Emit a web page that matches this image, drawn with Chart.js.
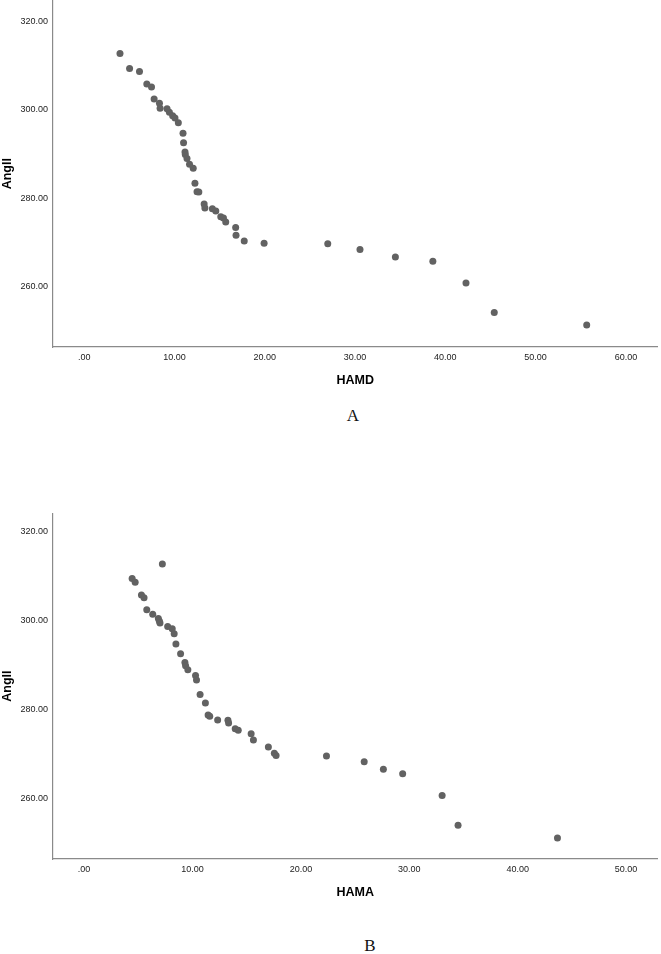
<!DOCTYPE html>
<html>
<head>
<meta charset="utf-8">
<script src="https://cdn.jsdelivr.net/npm/chart.js@4"></script>
<style>
  html, body { margin: 0; padding: 0; background: #fff; }
  body { width: 661px; height: 954px; position: relative; overflow: hidden; }
  .box { position: absolute; left: 0; width: 661px; }
  .cap { position: absolute; font-family: 'Liberation Serif', 'Times New Roman', serif; font-size: 17px; color: #111; transform: translate(-50%, -50%); }
</style>
</head>
<body>
<div class="box" style="top:-3px;height:403px"><canvas id="cA" width="661" height="403"></canvas></div>
<div class="box" style="top:500px;height:420px"><canvas id="cB" width="661" height="420"></canvas></div>
<div class="cap" style="left:353px;top:416px">A</div>
<div class="cap" style="left:370px;top:946px">B</div>
<script>
// ---- data ----
const hamdValues = [3.97, 5.03, 6.13, 6.94, 7.46, 7.75, 8.34, 8.41, 9.18, 9.44, 9.80, 10.06, 10.43, 10.95, 11.01, 11.17, 11.20, 11.39, 11.67, 12.08, 12.27, 12.50, 12.70, 13.29, 13.37, 14.20, 14.58, 15.13, 15.43, 15.68, 16.78, 16.82, 17.73, 19.93, 26.98, 30.55, 34.47, 38.62, 42.29, 45.42, 55.66];
const angleA = [312.8, 309.4, 308.7, 305.9, 305.2, 302.5, 301.5, 300.4, 300.3, 299.5, 298.7, 298.2, 297.1, 294.7, 292.6, 290.5, 289.9, 289.0, 287.7, 286.8, 283.4, 281.5, 281.4, 278.7, 277.8, 277.6, 277.1, 275.8, 275.5, 274.6, 273.4, 271.6, 270.3, 269.8, 269.7, 268.4, 266.7, 265.7, 260.8, 254.1, 251.3];

const hamaValues = [7.22, 4.43, 4.71, 5.29, 5.53, 5.78, 6.33, 6.85, 6.95, 7.00, 7.71, 8.13, 8.31, 8.47, 8.90, 9.30, 9.36, 9.57, 10.28, 10.37, 10.70, 11.19, 11.44, 11.59, 12.32, 13.27, 13.33, 13.94, 14.22, 15.41, 15.62, 17.00, 17.55, 17.71, 22.36, 25.84, 27.61, 29.39, 33.03, 34.50, 43.67];
const angleB = [312.7, 309.4, 308.6, 305.7, 305.1, 302.4, 301.4, 300.4, 299.8, 299.4, 298.6, 298.1, 297.0, 294.7, 292.5, 290.5, 289.8, 288.9, 287.6, 286.6, 283.3, 281.4, 278.7, 278.4, 277.6, 277.5, 276.9, 275.6, 275.3, 274.5, 273.1, 271.5, 270.1, 269.6, 269.5, 268.2, 266.5, 265.5, 260.6, 253.9, 251.0];

const yTicks = [260, 280, 300, 320];
const xTicksA = [0, 10, 20, 30, 40, 50, 60];
const xTicksB = [0, 10, 20, 30, 40, 50];
const yLabel = 'Angll';
const xLabelA = 'HAMD';
const xLabelB = 'HAMA';

// ---- chart builder ----
const SANS = "'Liberation Sans', Arial, sans-serif";
function fmt(v) { const s = Number(v).toFixed(2); return s.startsWith('0.') ? s.slice(1) : s; }

function makeChart(id, xs, ys, xTicks, xLabel, xMin, xMax, yMax, pad) {
  const pts = xs.map((x, i) => ({ x: x, y: ys[i] }));
  return new Chart(document.getElementById(id), {
    type: 'scatter',
    data: { datasets: [{ data: pts, pointRadius: 3.5, pointHoverRadius: 3.5, backgroundColor: '#626262', borderWidth: 0 }] },
    options: {
      responsive: false,
      animation: false,
      layout: { padding: pad },
      plugins: { legend: { display: false }, tooltip: { enabled: false } },
      scales: {
        x: {
          type: 'linear', min: xMin, max: xMax,
          grid: { display: false, drawTicks: false },
          border: { display: true, color: '#8a8a8a', width: 1.2 },
          afterFit: s => { s.height = 41; s.paddingLeft = 0; s.paddingRight = 0; },
          afterBuildTicks: s => { s.ticks = xTicks.map(v => ({ value: v })); },
          ticks: { padding: 5, color: '#222', font: { family: SANS, size: 9 }, callback: v => fmt(v), maxRotation: 0, autoSkip: false },
          title: { display: true, text: xLabel, color: '#000', padding: { top: 0, bottom: 0 }, font: { family: SANS, size: 12.5, weight: 'bold' } }
        },
        y: {
          type: 'linear', min: 246.3, max: yMax,
          grid: { display: false, drawTicks: false },
          border: { display: true, color: '#8a8a8a', width: 1.2 },
          afterFit: s => { s.width = 53; s.paddingTop = 0; s.paddingBottom = 0; },
          afterBuildTicks: s => { s.ticks = yTicks.map(v => ({ value: v })); },
          ticks: { padding: 5, color: '#222', font: { family: SANS, size: 9 }, callback: v => fmt(v), autoSkip: false },
          title: { display: true, text: yLabel, color: '#000', padding: { top: 0, bottom: 0 }, font: { family: SANS, size: 12.5, weight: 'bold' } }
        }
      }
    }
  });
}

makeChart('cA', hamdValues, angleA, xTicksA, xLabelA, -3.45, 63.5, 324.8, { top: 0, bottom: 12, left: 0, right: 0 });
makeChart('cB', hamaValues, angleB, xTicksB, xLabelB, -2.87, 52.9, 324.1, { top: 13.3, bottom: 20, left: 0, right: 0 });
</script>
</body>
</html>
